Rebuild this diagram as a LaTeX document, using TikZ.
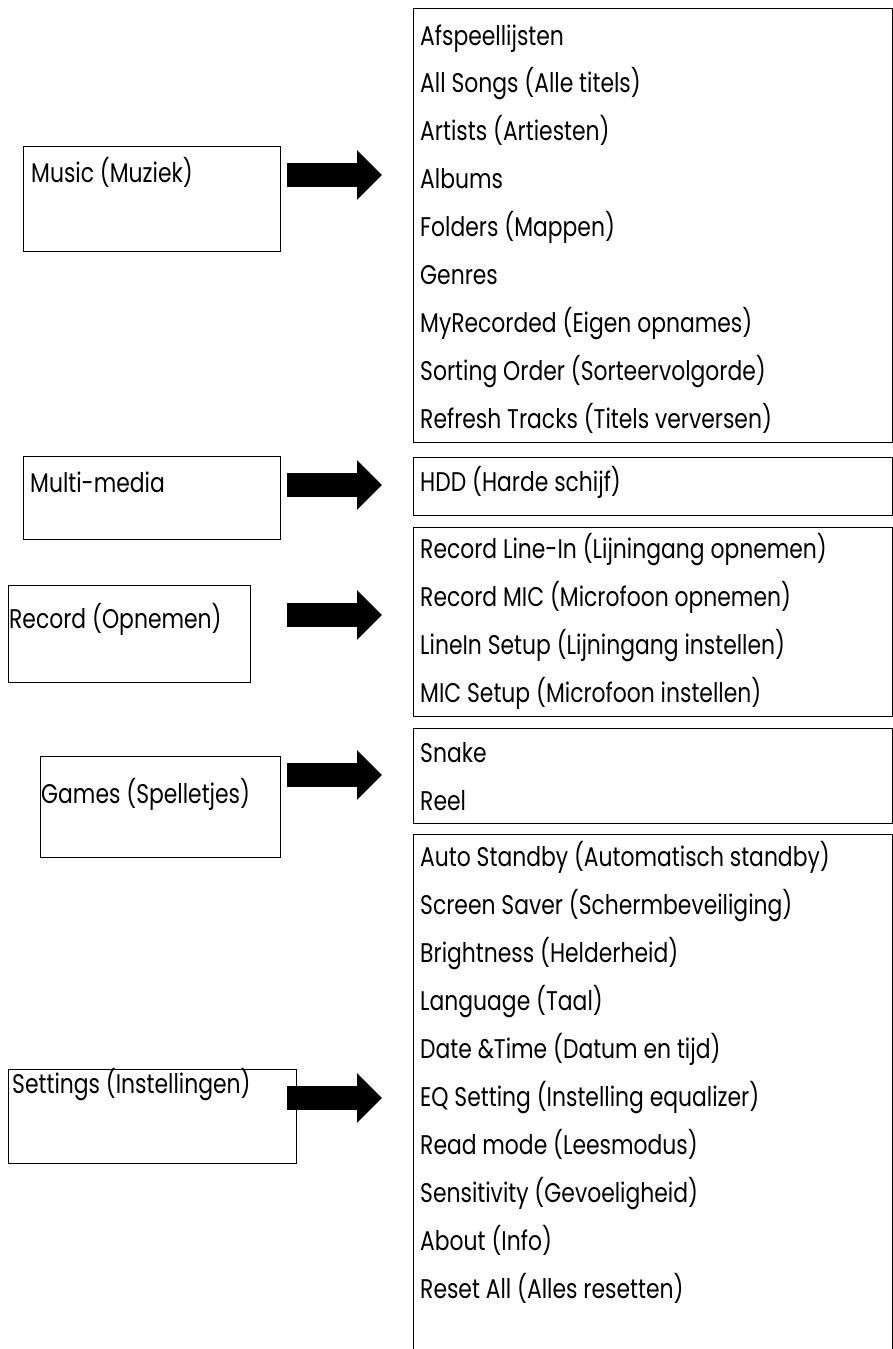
\documentclass[tikz,border=0pt]{standalone}
\usepackage{fontspec}
\setmainfont{Poppins}[FakeStretch=0.81]
\usetikzlibrary{arrows.meta}
\tikzset{
  box/.style={draw=black, line width=1pt, fill=none, inner sep=0pt, anchor=north west},
  txt/.style={inner sep=0pt, anchor=base west, font=\fontsize{27}{32}\selectfont},
  bigarrow/.style={line width=24pt, -{Triangle[width=48pt,length=25pt]}}
}
\begin{document}
\begin{tikzpicture}[x=1pt,y=-1pt]
\useasboundingbox (0,0) rectangle (893,1349);
% left boxes
\node[box, minimum width=257pt, minimum height=105pt] (music) at (23,146) {};
\node[box, minimum width=257pt, minimum height=83pt] (multi) at (23,456) {};
\node[box, minimum width=242pt, minimum height=97pt] (record) at (8,585) {};
\node[box, minimum width=240pt, minimum height=101pt] (games) at (40,756) {};
\node[box, minimum width=288pt, minimum height=94pt] (settings) at (8,1069) {};
\node[txt] (musict) at (31,182) {Music (Muziek)};
\node[txt] (multit) at (30,492) {Multi-media};
\node[txt] (recordt) at (9,628) {Record (Opnemen)};
\node[txt] (gamest) at (41,803) {Games (Spelletjes)};
\node[txt] (settingst) at (12,1093) {Settings (Instellingen)};
% right boxes
\node[box, minimum width=479pt, minimum height=434pt] (musiclist) at (413,8) {};
\node[box, minimum width=479pt, minimum height=58pt] (multilist) at (413,457) {};
\node[box, minimum width=479pt, minimum height=189pt] (recordlist) at (413,527) {};
\node[box, minimum width=479pt, minimum height=95pt] (gameslist) at (413,728) {};
\node[box, minimum width=479pt, minimum height=540pt] (settingslist) at (413,834) {};
% music items
\node[txt] (m1) at (420,45) {Afspeellijsten};
\node[txt] (m2) at (420,92.9) {All Songs (Alle titels)};
\node[txt] (m3) at (420,140.8) {Artists (Artiesten)};
\node[txt] (m4) at (420,188.7) {Albums};
\node[txt] (m5) at (420,236.6) {Folders (Mappen)};
\node[txt] (m6) at (420,284.5) {Genres};
\node[txt] (m7) at (420,332.4) {MyRecorded (Eigen opnames)};
\node[txt] (m8) at (420,380.3) {Sorting Order (Sorteervolgorde)};
\node[txt] (m9) at (420,428.2) {Refresh Tracks (Titels verversen)};
% multimedia
\node[txt] (h1) at (420,491) {HDD (Harde schijf)};
% record
\node[txt] (r1) at (420,558) {Record Line-In (Lijningang opnemen)};
\node[txt] (r2) at (420,606) {Record MIC (Microfoon opnemen)};
\node[txt] (r3) at (420,654) {LineIn Setup (Lijningang instellen)};
\node[txt] (r4) at (420,702) {MIC Setup (Microfoon instellen)};
% games
\node[txt] (g1) at (420,762) {Snake};
\node[txt] (g2) at (420,810) {Reel};
% settings
\node[txt] (s1) at (420,866) {Auto Standby (Automatisch standby)};
\node[txt] (s2) at (420,914) {Screen Saver (Schermbeveiliging)};
\node[txt] (s3) at (420,962) {Brightness (Helderheid)};
\node[txt] (s4) at (420,1010) {Language (Taal)};
\node[txt] (s5) at (420,1058) {Date \&Time (Datum en tijd)};
\node[txt] (s6) at (420,1106) {EQ Setting (Instelling equalizer)};
\node[txt] (s7) at (420,1154) {Read mode (Leesmodus)};
\node[txt] (s8) at (420,1202) {Sensitivity (Gevoeligheid)};
\node[txt] (s9) at (420,1250) {About (Info)};
\node[txt] (s10) at (420,1298) {Reset All (Alles resetten)};
% arrows
\coordinate (a1s) at (287,175); \coordinate (a1e) at (382,175);
\coordinate (a2s) at (287,485); \coordinate (a2e) at (382,485);
\coordinate (a3s) at (287,615); \coordinate (a3e) at (382,615);
\coordinate (a4s) at (287,775); \coordinate (a4e) at (382,775);
\coordinate (a5s) at (287,1098); \coordinate (a5e) at (382,1098);
\draw[bigarrow] (a1s) -- (a1e);
\draw[bigarrow] (a2s) -- (a2e);
\draw[bigarrow] (a3s) -- (a3e);
\draw[bigarrow] (a4s) -- (a4e);
\draw[bigarrow] (a5s) -- (a5e);
\end{tikzpicture}
\end{document}
